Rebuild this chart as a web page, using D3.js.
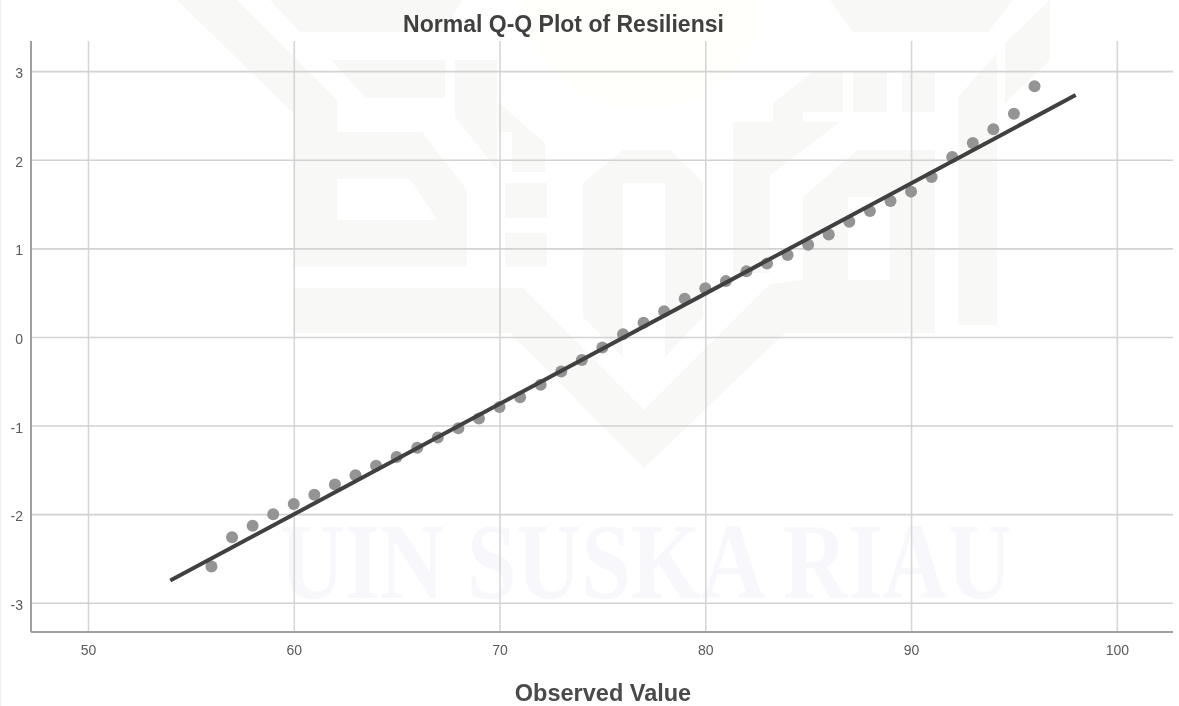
<!DOCTYPE html>
<html lang='en'>

<head>
    <meta charset='UTF-8' />
    <title>Normal Q-Q Plot of Resiliensi</title>
    <script src="https://cdn.jsdelivr.net/npm/d3@7"></script>
    <style>
        html,
        body {
            margin: 0;
            background: white;
        }

        svg {
            display: block;
            font-family: "Liberation Sans", Arial, sans-serif;
            /* the source is a soft screenshot */
            filter: blur(0.4px);
        }

        .domain {
            display: none;
        }

        .tick text {
            font-size: 14px;
            fill: #5a5a5a;
        }
    </style>
</head>

<body>
    <div id="container"></div>

    <script>
        // begin data //

        const observedValues = [56, 57, 58, 59, 60, 61, 62, 63, 64, 65, 66, 67, 68, 69, 70, 71, 72, 73, 74, 75, 76,
            77, 78, 79, 80, 81, 82, 83, 84, 85, 86, 87, 88, 89, 90, 91, 92, 93, 94, 95, 96];
        const expectedNormal = [-2.59, -2.26, -2.13, -2.00, -1.885, -1.78, -1.665, -1.56, -1.455, -1.355, -1.25,
            -1.135, -1.03, -0.92, -0.79, -0.68, -0.54, -0.39, -0.26, -0.12, 0.03,
            0.16, 0.29, 0.43, 0.55, 0.63, 0.74, 0.83, 0.925, 1.04, 1.155, 1.30, 1.42, 1.535, 1.64, 1.805,
            2.03, 2.19, 2.345, 2.52, 2.83];
        const refLineX = [54, 98];
        const refLineY = [-2.75, 2.73];
        const xTicks = [50, 60, 70, 80, 90, 100];
        const yTicks = [-3, -2, -1, 0, 1, 2, 3];

        // end data //

        const width = 1179;
        const height = 706;
        const left = 31, right = 1173, top_ = 41, bottom = 632;

        const svg = d3.select("#container")
            .append("svg")
            .attr("width", width)
            .attr("height", height);

        const x = d3.scaleLinear().domain([47.23, 102.73]).range([left, right]);
        const y = d3.scaleLinear().domain([-3.33, 3.34]).range([bottom, top_]);

        // faint page watermark, sits under the chart
        const wm = svg.append("g").attr("fill", "#f8f8f6").attr("fill-rule", "evenodd");
        wm.append("ellipse").attr("cx", 643).attr("cy", 0).attr("rx", 120).attr("ry", 110).attr("fill", "#fffffb");
        const watermarkPaths = [
            "M177,0L237,0L337,100L337,132L422,132L467,190L467,267L293,267L293,113Z M337,179L410,179L437,220L337,220Z",
            "M270,0L300,32L443,32L462,0Z",
            "M331,60L445,60L445,98L366,98Z",
            "M455,60L497,60L497,170L455,117Z",
            "M498,102L545,143L545,172L512,172L512,132L498,132Z",
            "M505,183H547V218H505Z",
            "M505,233H547V267H505Z",
            "M583,183L623,150L670,150L703,182L703,317L665,357L665,183L623,183L623,357L583,317Z",
            "M293,288L523,288L644,410L770,284L803,280L803,197L857,150L935,150L935,333L785,333L644,468L510,333L293,333Z M848,197H890V280H848Z",
            "M733,122L773,122L773,103L813,72L843,72L843,112L803,112L803,122L840,122L770,175L770,273L733,273Z",
            "M830,0L853,32L988,32L1013,0Z",
            "M853,72H887V112H853Z",
            "M902,72H935V112H902Z",
            "M958,97L997,53L997,325L958,325Z",
            "M1005,43L1050,0L1050,60L1005,103Z"
        ];
        wm.selectAll("path")
            .data(watermarkPaths)
            .join("path")
            .attr("d", d => d);
        wm.append("text")
            .attr("x", 280)
            .attr("y", 598)
            .attr("textLength", 732)
            .attr("lengthAdjust", "spacingAndGlyphs")
            .style("font-family", "'Liberation Serif', serif")
            .style("font-weight", "bold")
            .style("font-size", "107px")
            .style("fill", "#f8f8fc")
            .text("UIN SUSKA RIAU");
        svg.append("rect").attr("x", 0).attr("y", 0).attr("width", 1.5).attr("height", height).attr("fill", "#f2f2f2");

        // axes with grid lines
        const xAxis = svg.append("g")
            .attr("transform", `translate(0,${bottom})`)
            .call(d3.axisBottom(x).tickValues(xTicks).tickFormat(d3.format("d")).tickSize(-(bottom - top_)).tickPadding(13));
        xAxis.selectAll("line").attr("stroke", "#d6d6d6").attr("stroke-width", 1.6);

        const yAxis = svg.append("g")
            .attr("transform", `translate(${left},0)`)
            .call(d3.axisLeft(y).tickValues(yTicks).tickFormat(d => String(d)).tickSize(-(right - left)).tickPadding(8));
        yAxis.selectAll("line").attr("stroke", "#d2d2d2").attr("stroke-width", 1.6);
        yAxis.selectAll("text").attr("dy", "0.47em");

        svg.append("line")
            .attr("x1", left).attr("x2", left)
            .attr("y1", top_).attr("y2", bottom)
            .attr("stroke", "#a0a0a0").attr("stroke-width", 2);
        svg.append("line")
            .attr("x1", left).attr("x2", right)
            .attr("y1", bottom).attr("y2", bottom)
            .attr("stroke", "#a0a0a0").attr("stroke-width", 2);

        // points then reference line on top
        svg.append("g")
            .selectAll("circle")
            .data(observedValues)
            .join("circle")
            .attr("cx", d => x(d))
            .attr("cy", (d, i) => y(expectedNormal[i]))
            .attr("r", 6)
            .attr("fill", "#949494");

        svg.append("path")
            .datum(refLineX)
            .attr("d", d3.line().x(d => x(d)).y((d, i) => y(refLineY[i])))
            .attr("fill", "none")
            .attr("stroke", "#404040")
            .attr("stroke-width", 4);

        svg.append("text")
            .attr("x", 563.5)
            .attr("y", 32)
            .attr("text-anchor", "middle")
            .style("font-size", "23px")
            .style("font-weight", "bold")
            .style("fill", "#404040")
            .text("Normal Q-Q Plot of Resiliensi");

        svg.append("text")
            .attr("x", 603)
            .attr("y", 701)
            .attr("text-anchor", "middle")
            .style("font-size", "23.5px")
            .style("font-weight", "bold")
            .style("fill", "#4a4a4a")
            .text("Observed Value");
    </script>
</body>

</html>
